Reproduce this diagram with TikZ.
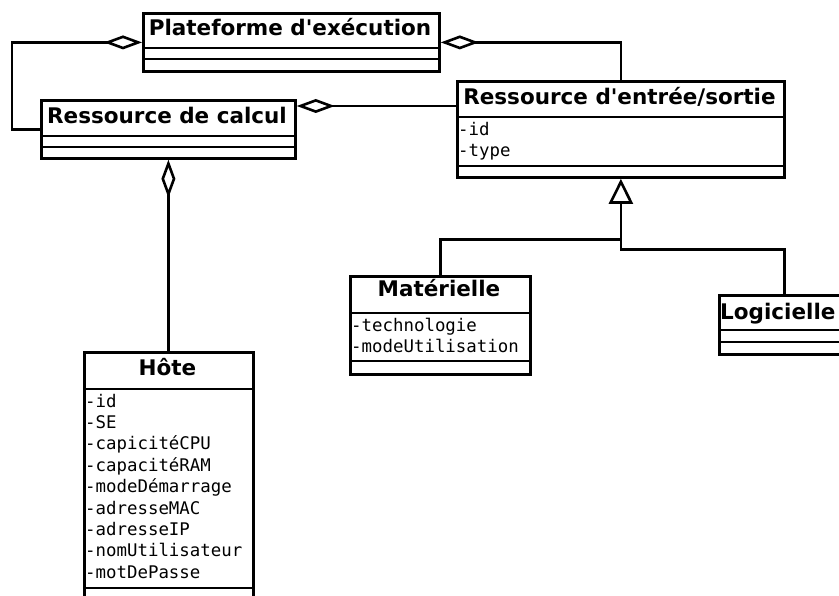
\documentclass[tikz,border=0pt]{standalone}
\usepackage{fontspec}
\setmainfont{DejaVu Sans}
\setmonofont{DejaVu Sans Mono}
\newfontfamily\titlefont{DejaVu Sans Bold}
\usetikzlibrary{arrows.meta}
\tikzset{
  box/.style={draw, line width=2.8pt, inner sep=0pt, anchor=north west},
  sep/.style={line width=2.8pt},
  ctitle/.style={font=\fontsize{21.5}{25}\titlefont, inner sep=0pt, anchor=base},
  attr/.style={font=\fontsize{17.4}{21}\ttfamily, inner sep=0pt, anchor=base west},
  agg/.style={line width=2.6pt, -{Diamond[open, length=38pt, width=14pt]}},
  gen/.style={line width=2.6pt, -{Triangle[open, length=25pt, width=24pt]}},
}
\begin{document}
\begin{tikzpicture}[x=1pt, y=-1pt]
\clip (0,0) rectangle (839,596);
\fill[white] (0,0) rectangle (839,596);

% class boxes
\node[box, minimum width=296pt, minimum height=58pt] (pe) at (142,12) {};
\draw[sep] (pe.north west) ++(0,36) -- ++(296,0) ++(-296,11) -- ++(296,0);
\node[ctitle] (peT) at (290,36) {Plateforme d'exécution};

\node[box, minimum width=254pt, minimum height=58pt] (rc) at (40,99) {};
\draw[sep] (rc.north west) ++(0,37) -- ++(254,0) ++(-254,11) -- ++(254,0);
\node[ctitle] (rcT) at (167,124) {Ressource de calcul};

\node[box, minimum width=327pt, minimum height=96pt] (res) at (456,80) {};
\draw[sep] (res.north west) ++(0,37) -- ++(327,0) ++(-327,49) -- ++(327,0);
\node[ctitle] (resT) at (619.5,105) {Ressource d'entrée/sortie};
\node[attr] (resA0) at (458,136) {-id};
\node[attr] (resA1) at (458,157) {-type};

\node[box, minimum width=180pt, minimum height=98pt] (mat) at (349,275) {};
\draw[sep] (mat.north west) ++(0,38) -- ++(180,0) ++(-180,48) -- ++(180,0);
\node[ctitle] (matT) at (439,297) {Matérielle};
\node[attr] (matA0) at (351,332) {-technologie};
\node[attr] (matA1) at (351,353) {-modeUtilisation};

\node[box, minimum width=130pt, minimum height=59pt] (log) at (718,294) {};
\draw[sep] (log.north west) ++(0,36) -- ++(130,0) ++(-130,12) -- ++(130,0);
\node[ctitle, anchor=base west] (logT) at (720,320) {Logicielle};

\node[box, minimum width=169pt, minimum height=260pt] (hote) at (83,351) {};
\draw[sep] (hote.north west) ++(0,38) -- ++(169,0) ++(-169,199) -- ++(169,0);
\node[ctitle] (hoteT) at (167.5,376) {Hôte};
\foreach \t [count=\i from 0] in {-id,-SE,-capicitéCPU,-capacitéRAM,-modeDémarrage,-adresseMAC,-adresseIP,-nomUtilisateur,-motDePasse}
  \node[attr] (hoteA\i) at (85,{407+21.4*\i}) {\t};

% connectors
\draw[agg] (rc.west) -- ++(-28,0) |- (pe.west);
\draw[agg] (res.north) |- (pe.east);
\draw[agg] ([yshift=-26pt]res.north west) -- ([yshift=-7pt]rc.north east);
\draw[agg] (rc.south |- hote.north) -- (rc.south);
\draw[gen] (log.north) |- ([yshift=-71pt]res.south) -- (res.south);
\draw[line width=2.6pt] (mat.north) |- ([yshift=-61pt]res.south);
\end{tikzpicture}
\end{document}
